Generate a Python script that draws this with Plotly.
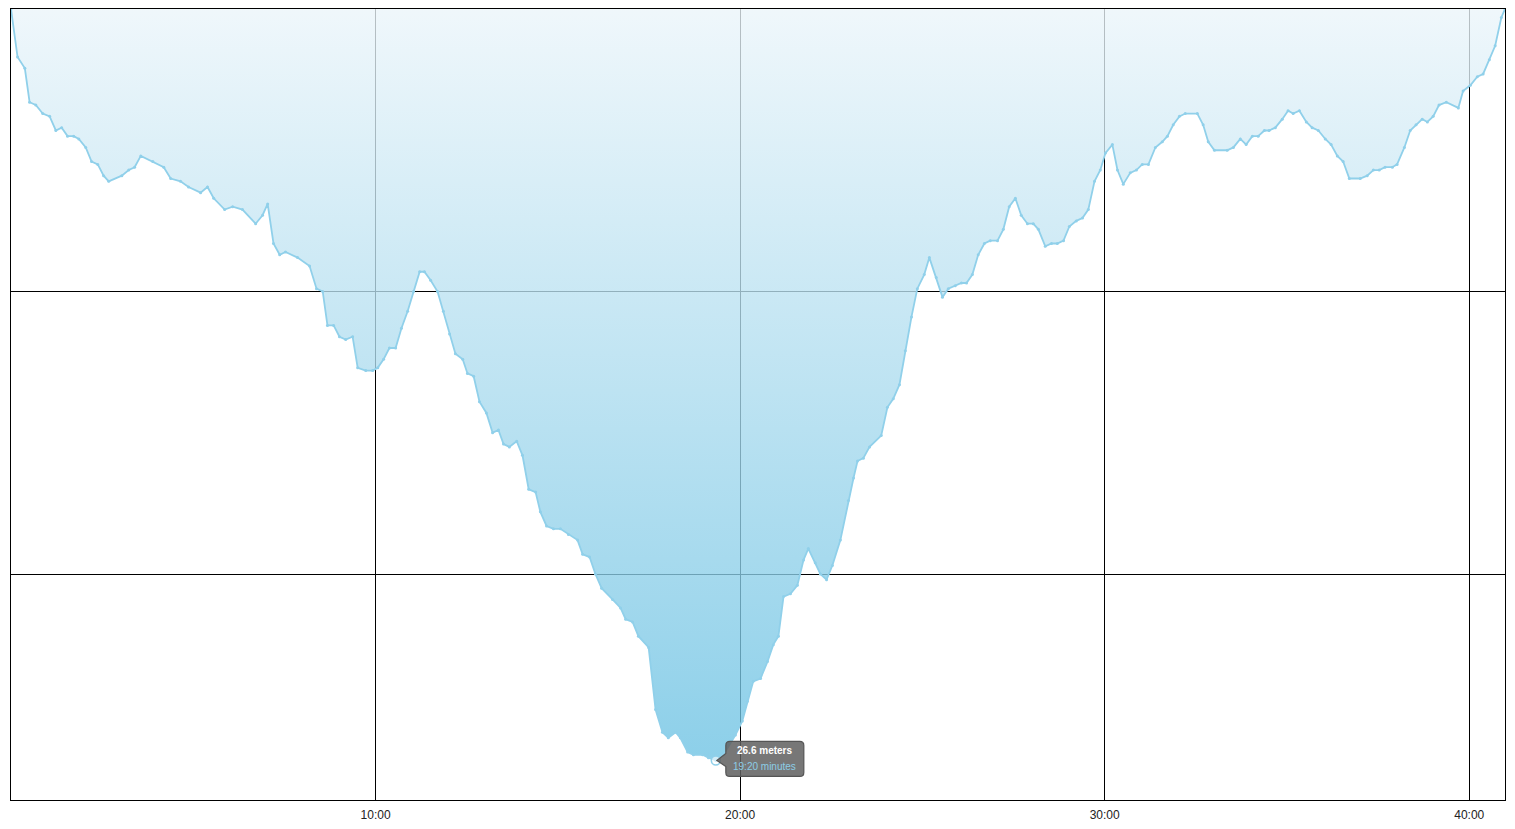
import plotly.graph_objects as go

# Dive profile: elapsed time (minutes) and depth (meters)
time_min = [
    0.0, 0.18, 0.38, 0.51, 0.68, 0.87, 1.06, 1.23, 1.39, 1.55, 1.72, 1.86, 2.05, 2.21, 2.38, 2.54, 2.68,
    3.04, 3.23, 3.39, 3.56, 3.89, 4.19, 4.38, 4.65, 4.87, 5.20, 5.39, 5.56, 5.86, 6.08, 6.35, 6.71, 6.90,
    7.04, 7.20, 7.37, 7.53, 7.86, 8.19, 8.38, 8.55, 8.68, 8.85, 9.01, 9.18, 9.37, 9.51, 9.73, 9.92, 10.06,
    10.22, 10.38, 10.55, 10.71, 10.88, 11.04, 11.21, 11.34, 11.51, 11.70, 11.86, 12.03, 12.19, 12.39, 12.52,
    12.69, 12.85, 13.04, 13.21, 13.37, 13.51, 13.67, 13.87, 14.03, 14.20, 14.39, 14.52, 14.69, 14.88, 15.07,
    15.29, 15.54, 15.68, 15.87, 16.03, 16.20, 16.50, 16.72, 16.86, 17.05, 17.21, 17.49, 17.68, 17.87, 18.03,
    18.23, 18.36, 18.56, 18.72, 18.97, 19.13, 19.333, 19.54, 19.87, 20.06, 20.20, 20.36, 20.56, 20.75, 20.91,
    21.05, 21.19, 21.38, 21.57, 21.74, 21.87, 22.06, 22.20, 22.37, 22.53, 22.75, 22.97, 23.11, 23.22, 23.38,
    23.55, 23.87, 24.04, 24.20, 24.37, 24.53, 24.70, 24.86, 25.05, 25.19, 25.38, 25.55, 25.71, 25.90, 26.07,
    26.21, 26.37, 26.53, 26.70, 26.86, 27.06, 27.22, 27.38, 27.55, 27.71, 27.88, 28.04, 28.18, 28.37, 28.54,
    28.70, 28.87, 29.03, 29.22, 29.39, 29.55, 29.72, 29.88, 30.02, 30.21, 30.35, 30.51, 30.70, 30.87, 31.03,
    31.20, 31.39, 31.58, 31.72, 31.88, 32.05, 32.21, 32.54, 32.70, 32.84, 33.01, 33.36, 33.53, 33.72, 33.88,
    34.05, 34.21, 34.38, 34.51, 34.68, 34.87, 35.03, 35.17, 35.34, 35.53, 35.69, 35.86, 36.05, 36.21, 36.38,
    36.54, 36.71, 37.01, 37.20, 37.37, 37.53, 37.69, 37.89, 38.02, 38.22, 38.38, 38.54, 38.71, 38.85, 39.01,
    39.17, 39.37, 39.70, 39.83, 40.03, 40.22, 40.38, 40.55, 40.71, 40.88, 40.98,
]
depth_m = [
    0.0, 1.7, 2.1, 3.3, 3.4, 3.7, 3.8, 4.3, 4.2, 4.5, 4.5, 4.6, 4.9, 5.4, 5.5, 5.9, 6.1,
    5.9, 5.7, 5.6, 5.2, 5.4, 5.6, 6.0, 6.1, 6.3, 6.5, 6.3, 6.7, 7.1, 7.0, 7.1, 7.6, 7.3,
    6.9, 8.3, 8.7, 8.6, 8.8, 9.1, 9.9, 10.0, 11.2, 11.2, 11.6, 11.7, 11.6, 12.7, 12.8, 12.8, 12.7,
    12.4, 12.0, 12.0, 11.3, 10.7, 10.0, 9.3, 9.3, 9.6, 10.0, 10.7, 11.5, 12.2, 12.4, 12.9,
    13.0, 13.9, 14.3, 15.0, 14.9, 15.4, 15.5, 15.3, 15.8, 17.0, 17.1, 17.8, 18.3, 18.4, 18.4,
    18.6, 18.8, 19.3, 19.4, 20.0, 20.5, 20.9, 21.2, 21.6, 21.7, 22.2, 22.6, 24.8, 25.6, 25.8,
    25.6, 25.8, 26.3, 26.4, 26.4, 26.5, 26.6, 26.4, 25.7, 25.2, 24.5, 23.8, 23.7, 23.1, 22.5,
    22.2, 20.8, 20.7, 20.4, 19.5, 19.1, 19.6, 20.0, 20.2, 19.7, 18.8, 17.4, 16.6, 16.0, 15.9,
    15.5, 15.1, 14.1, 13.8, 13.3, 12.1, 10.9, 9.9, 9.4, 8.8, 9.5, 10.2, 9.9, 9.8, 9.7,
    9.7, 9.4, 8.7, 8.3, 8.2, 8.2, 7.8, 7.0, 6.7, 7.3, 7.6, 7.6, 7.8, 8.4, 8.3,
    8.3, 8.2, 7.7, 7.5, 7.4, 7.1, 6.1, 5.7, 5.1, 4.8, 5.7, 6.2, 5.8, 5.7, 5.5,
    5.5, 4.9, 4.7, 4.5, 4.1, 3.8, 3.7, 3.7, 4.1, 4.7, 5.0, 5.0, 4.9, 4.6, 4.8,
    4.5, 4.5, 4.3, 4.3, 4.2, 3.9, 3.6, 3.7, 3.6, 4.0, 4.2, 4.3, 4.6, 4.8, 5.2,
    5.4, 6.0, 6.0, 5.9, 5.7, 5.7, 5.6, 5.6, 5.5, 4.9, 4.3, 4.1, 3.9, 4.0, 3.8,
    3.4, 3.3, 3.5, 2.9, 2.7, 2.4, 2.3, 1.8, 1.3, 0.3, 0.0,
]
tick_vals = [10, 20, 30, 40]
tick_text = ["10:00", "20:00", "30:00", "40:00"]

# highlighted point (tooltip)
tip_time = 19.333
tip_depth = 26.6
tip_line1 = "26.6 meters"
tip_line2 = "19:20 minutes"

LINE_C = "#90d0ea"

fig = go.Figure()
fig.add_trace(go.Scatter(
    x=time_min, y=depth_m, mode="lines+markers",
    line=dict(color=LINE_C, width=1.8),
    marker=dict(color=LINE_C, size=3),
    fill="tozeroy",
    fillgradient=dict(
        type="vertical",
        colorscale=[[0, "rgba(235,245,250,0.78)"], [1, "rgba(108,194,227,0.78)"]],
        start=0, stop=26.6,
    ),
    hoverinfo="skip", showlegend=False,
))
fig.add_trace(go.Scatter(
    x=[tip_time], y=[tip_depth], mode="markers",
    marker=dict(color="rgba(255,255,255,0.6)", size=9, line=dict(color=LINE_C, width=1.5)),
    hoverinfo="skip", showlegend=False,
))

# tooltip box with pointer (pixel-sized, anchored at the point)
box_path = ("M 1,0 L 10,7 L 10,15 Q 10,19 14,19 L 84,19 Q 88,19 88,15 "
            "L 88,-12 Q 88,-16 84,-16 L 14,-16 Q 10,-16 10,-12 L 10,-6 Z")
fig.add_shape(type="path", xref="x", yref="y", xsizemode="pixel", ysizemode="pixel",
              xanchor=tip_time, yanchor=tip_depth, path=box_path,
              fillcolor="rgba(95,95,95,0.85)", line=dict(color="#555555", width=1.2),
              layer="above")
fig.add_annotation(x=tip_time, y=tip_depth, xref="x", yref="y", showarrow=False,
                   text="<b>" + tip_line1 + "</b>", xanchor="center", yanchor="middle",
                   xshift=49, yshift=10,
                   font=dict(family="Liberation Sans, Arial, sans-serif", size=10, color="#ffffff"))
fig.add_annotation(x=tip_time, y=tip_depth, xref="x", yref="y", showarrow=False,
                   text=tip_line2, xanchor="center", yanchor="middle",
                   xshift=49, yshift=-6,
                   font=dict(family="Liberation Sans, Arial, sans-serif", size=10, color="#8ccde6"))

fig.update_layout(
    width=1507, height=821,
    margin=dict(l=3, r=10, t=1, b=29),
    paper_bgcolor="#ffffff", plot_bgcolor="#ffffff",
    hovermode=False,
    font=dict(family="Liberation Sans, Arial, sans-serif", size=12, color="#222222"),
    xaxis=dict(
        range=[0, 40.98], tickmode="array", tickvals=tick_vals, ticktext=tick_text,
        showgrid=True, gridcolor="#000000", gridwidth=1, zeroline=False,
        showline=True, linecolor="#000000", linewidth=1, mirror=True,
        ticks="", ticklabelstandoff=4, tickfont=dict(size=12, color="#222222"),
    ),
    yaxis=dict(
        range=[28.0, 0], tickmode="array", tickvals=[10, 20], showticklabels=False,
        showgrid=True, gridcolor="#000000", gridwidth=1, zeroline=False,
        showline=True, linecolor="#000000", linewidth=1, mirror=True, ticks="",
    ),
)

fig.write_html("out.html")
